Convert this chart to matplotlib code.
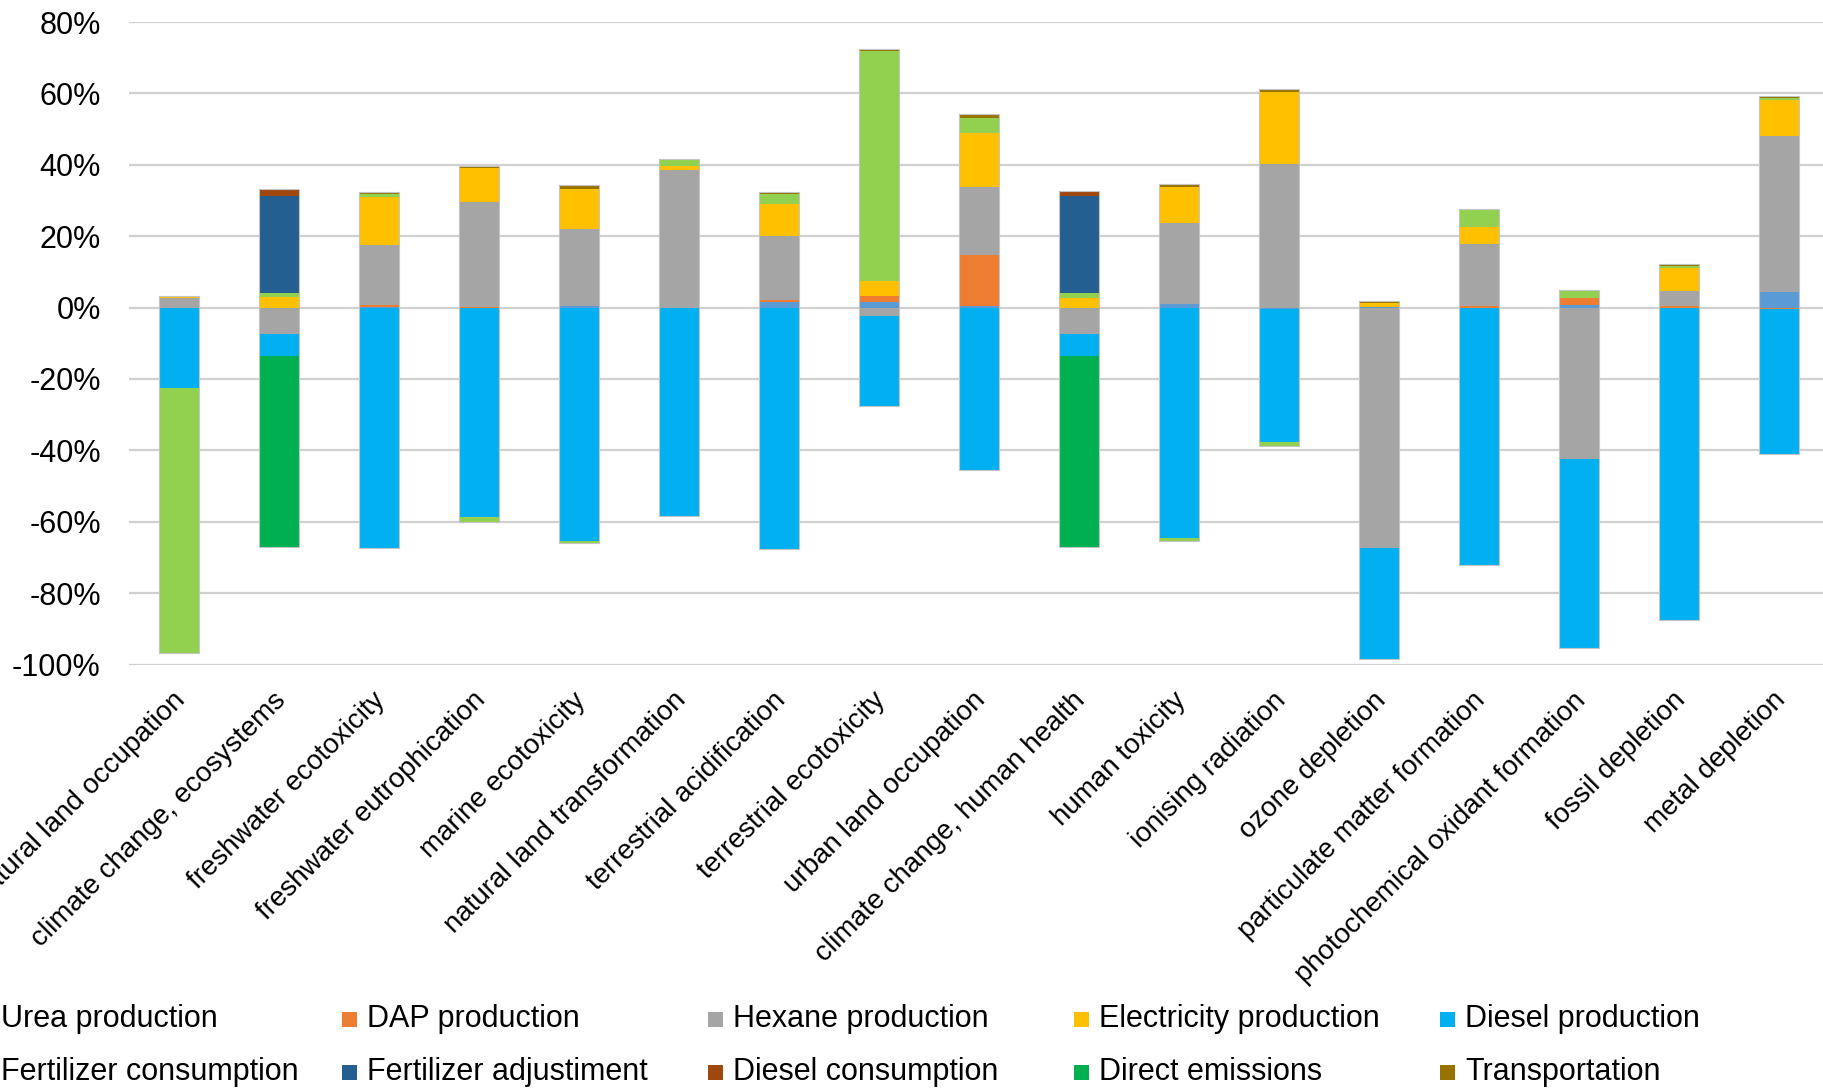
import numpy as np
import matplotlib
matplotlib.use("Agg")
import matplotlib.pyplot as plt
from matplotlib.patches import Rectangle
from matplotlib.ticker import FuncFormatter, MultipleLocator
from matplotlib.transforms import ScaledTranslation

plt.rcParams["font.family"] = ["Liberation Sans", "DejaVu Sans"]

# Impact categories (x axis)
categories = [
    "natural land occupation", "climate change, ecosystems", "freshwater ecotoxicity",
    "freshwater eutrophication", "marine ecotoxicity", "natural land transformation",
    "terrestrial acidification", "terrestrial ecotoxicity", "urban land occupation",
    "climate change, human health", "human toxicity", "ionising radiation",
    "ozone depletion", "particulate matter formation", "photochemical oxidant formation",
    "fossil depletion", "metal depletion",
]

# Contribution of each process to each category (%)
urea_production = [0, 0, 0.2, 0, 0.5, 0, 1.6, 1.6, 0.5, 0, 1.0, -0.3, 0.2, 0, 0.6, 0, 4.25]
dap_production = [0, 0, 0.4, 0.2, 0, 0, 0.5, 1.5, 14.25, 0, 0, 0, 0, 0.5, 2.1, 0.3, -0.3]
hexane_production = [2.6, -7.5, 17.0, 29.5, 21.5, 38.5, 18.0, -2.25, 19.1, -7.5, 22.6, 40.1,
                     -67.5, 17.25, -42.4, 4.4, 43.75]
electricity_production = [0.4, 2.9, 13.4, 9.5, 11.1, 1.1, 9.0, 4.25, 15.1, 2.75, 10.1, 20.25,
                          1.2, 4.9, 0, 6.4, 10.1]
diesel_production = [-22.4, -6.0, -67.5, -58.75, -65.5, -58.4, -67.6, -25.25, -45.5, -6.0,
                     -64.6, -37.25, -30.9, -72.1, -53.1, -87.4, -40.75]
fertilizer_consumption = [-74.5, 1.25, 0.9, -1.25, -0.6, 1.75, 2.6, 64.6, 4.25, 1.4, -0.75,
                          -1.25, 0, 4.6, 1.9, 0.5, 0.5]
fertilizer_adjustment = [0, 27.2, 0, 0, 0, 0, 0, 0, 0, 27.1, 0, 0, 0, 0, 0, 0, 0]
diesel_consumption = [0, 1.75, 0, 0, 0, 0, 0, 0, 0, 1.5, 0, 0, 0, 0, 0, 0, 0]
direct_emissions = [0, -53.6, 0, 0, 0, 0, 0, 0, 0, -53.6, 0, 0, 0, 0, 0, 0, 0]
transportation = [0.2, 0, 0.6, 0.5, 1.1, 0.4, 0.6, 0.4, 1.0, 0, 0.9, 1.0, 0.3, 0.3, 0.4, 0.5, 0.6]

series_names = [
    "Urea production", "DAP production", "Hexane production", "Electricity production",
    "Diesel production", "Fertilizer consumption", "Fertilizer adjustiment",
    "Diesel consumption", "Direct emissions", "Transportation",
]
series_values = [
    urea_production, dap_production, hexane_production, electricity_production,
    diesel_production, fertilizer_consumption, fertilizer_adjustment,
    diesel_consumption, direct_emissions, transportation,
]
series_colors = [
    "#5B9BD5", "#ED7D31", "#A5A5A5", "#FFC000", "#00B0F0",
    "#92D050", "#255E91", "#9E480E", "#00B050", "#997300",
]

W, H = 1824, 1089
fig = plt.figure(figsize=(W / 100, H / 100), dpi=100)
ax = fig.add_axes([128.6 / W, 1 - 664.5 / H, 1700 / W, (664.5 - 22) / H])

x = np.arange(len(categories))
bar_w = 0.4
pos_base = np.zeros(len(categories))
neg_base = np.zeros(len(categories))
for vals, color in zip(series_values, series_colors):
    v = np.asarray(vals, dtype=float)
    pos = np.where(v > 0, v, 0)
    neg = np.where(v < 0, v, 0)
    ax.bar(x, pos, bar_w, bottom=pos_base, color=color, linewidth=0, zorder=3)
    ax.bar(x, neg, bar_w, bottom=neg_base, color=color, linewidth=0, zorder=3)
    pos_base += pos
    neg_base += neg

# thin light outline around each stacked column
ax.bar(x, pos_base - neg_base, bar_w, bottom=neg_base, fill=False,
       edgecolor="#C4C4C4", linewidth=0.8, zorder=4)

ax.set_xlim(-0.5, len(categories) - 0.5)
ax.set_ylim(-100, 80)
ax.yaxis.set_major_locator(MultipleLocator(20))
ax.yaxis.set_major_formatter(FuncFormatter(lambda v, p: f"{int(round(v))}%"))
ax.grid(axis="y", color="#D0D0D0", linewidth=1.6, zorder=0)
ax.set_axisbelow(True)
for s in ax.spines.values():
    s.set_visible(False)
ax.tick_params(axis="both", length=0)
ax.tick_params(axis="y", labelsize=22, pad=20)

ax.set_xticks(x)
ax.set_xticklabels(categories, rotation=45, ha="right", va="center",
                   rotation_mode="anchor", fontsize=20)
ax.tick_params(axis="x", pad=23)
shift = ScaledTranslation(3 / 100, 0, fig.dpi_scale_trans)
for lbl in ax.get_xticklabels():
    lbl.set_transform(lbl.get_transform() + shift)

# legend: two rows of five entries
for i, (name, color) in enumerate(zip(series_names, series_colors)):
    row, col = divmod(i, 5)
    tx = 1 + 366 * col
    ty = 1019 + 53 * row
    fig.add_artist(Rectangle(((tx - 25) / W, 1 - (ty + 7.5) / H), 15 / W, 15 / H,
                             facecolor=color, edgecolor="none",
                             transform=fig.transFigure))
    fig.text(tx / W, 1 - ty / H, name, fontsize=22, ha="left", va="center")

fig.savefig("out.png", dpi=100)
